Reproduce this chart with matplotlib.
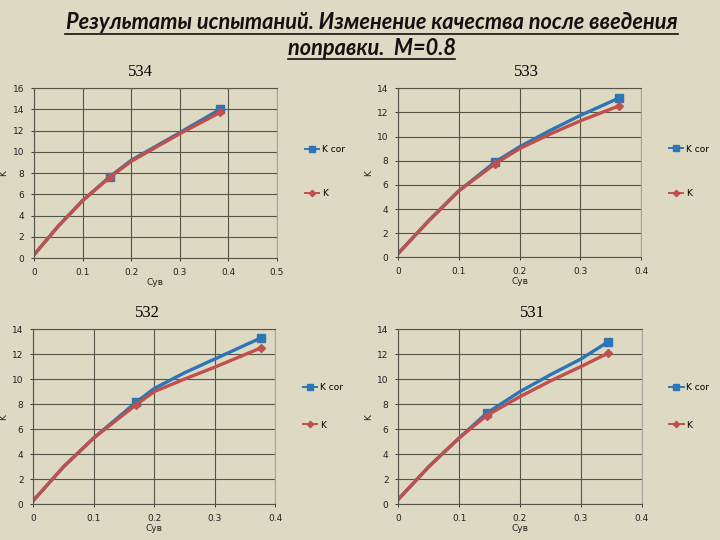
import matplotlib
matplotlib.use("Agg")
import matplotlib.pyplot as plt
from matplotlib.lines import Line2D

bg = "#ddd9c3"
blue = "#2e75b6"
red = "#c0504d"
grid_c = "#55554a"

# curve points; the markers sit on the data points
cy_534 = [0.0, 0.05, 0.10, 0.156, 0.20, 0.25, 0.30, 0.383]
kcor_534 = [0.3, 3.0, 5.4, 7.65, 9.2, 10.5, 11.8, 14.0]
k_534 = [0.3, 3.0, 5.4, 7.6, 9.1, 10.4, 11.7, 13.7]

cy_533 = [0.0, 0.05, 0.10, 0.160, 0.20, 0.25, 0.30, 0.364]
kcor_533 = [0.3, 3.0, 5.5, 7.9, 9.15, 10.5, 11.75, 13.2]
k_533 = [0.3, 3.0, 5.5, 7.75, 9.0, 10.2, 11.3, 12.55]

cy_532 = [0.0, 0.05, 0.10, 0.170, 0.20, 0.25, 0.30, 0.377]
kcor_532 = [0.3, 3.0, 5.3, 8.15, 9.25, 10.5, 11.6, 13.3]
k_532 = [0.3, 3.0, 5.3, 7.95, 9.0, 10.0, 10.95, 12.5]

cy_531 = [0.0, 0.05, 0.10, 0.145, 0.20, 0.25, 0.30, 0.344]
kcor_531 = [0.4, 3.0, 5.3, 7.27, 9.0, 10.35, 11.6, 12.95]
k_531 = [0.4, 3.0, 5.3, 7.08, 8.6, 9.85, 11.0, 12.05]

marked = [3, 7]

# name, data, x max, y max, axes rect, title x, legend y, legend spacing
charts = [
    ("534", cy_534, kcor_534, k_534, 0.5, 16, [0.0472, 0.5222, 0.3375, 0.3148], 0.44, 0.51, 3.9),
    ("533", cy_533, kcor_533, k_533, 0.4, 14, [0.5528, 0.5235, 0.3375, 0.3130], 0.53, 0.51, 3.9),
    ("532", cy_532, kcor_532, k_532, 0.4, 14, [0.0463, 0.0661, 0.3357, 0.3246], 0.47, 0.56, 3.2),
    ("531", cy_531, kcor_531, k_531, 0.4, 14, [0.5532, 0.0661, 0.3380, 0.3246], 0.55, 0.56, 3.2),
]

fig = plt.figure(figsize=(7.2, 5.4), dpi=100)
fig.patch.set_facecolor(bg)

fig.text(0.5165, 0.958, "Результаты испытаний. Изменение качества после введения",
         ha="center", va="center", fontsize=15.7, fontweight="bold", style="italic",
         family=["Lato", "DejaVu Sans"], color="#111111")
fig.text(0.5165, 0.911, "поправки.  M=0.8",
         ha="center", va="center", fontsize=15.7, fontweight="bold", style="italic",
         family=["Lato", "DejaVu Sans"], color="#111111")
# underline the title lines
fig.add_artist(Line2D([0.090, 0.942], [0.937, 0.937], color="#111111", lw=1.2))
fig.add_artist(Line2D([0.400, 0.632], [0.891, 0.891], color="#111111", lw=1.2))

for name, cy, kcor, k, xmax, ymax, rect, tx, ly, lsp in charts:
    ax = fig.add_axes(rect)
    ax.set_facecolor(bg)
    ax.plot(cy, kcor, color=blue, lw=2.4, marker="s", markersize=6,
            markevery=marked, label="K cor")
    ax.plot(cy, k, color=red, lw=2.4, marker="D", markersize=4,
            markevery=marked, label="K")
    ax.set_xlim(0, xmax)
    ax.set_ylim(0, ymax)
    nx = int(round(xmax * 10))
    ax.set_xticks([i / 10 for i in range(nx + 1)])
    ax.set_xticklabels(["0"] + ["%g" % (i / 10) for i in range(1, nx + 1)])
    ax.set_yticks(range(0, ymax + 1, 2))
    ax.grid(True, color=grid_c, lw=0.8)
    ax.set_axisbelow(True)
    for s in ["left", "bottom", "top"]:
        ax.spines[s].set_color(grid_c)
        ax.spines[s].set_linewidth(0.8)
    ax.spines["right"].set_color("#a8a89a")
    ax.tick_params(labelsize=6.5, colors="#222222", length=2, width=0.6, pad=5)
    ax.set_xlabel("Cyв", fontsize=6.5, labelpad=1, color="#222222")
    ax.set_ylabel("K", fontsize=6.5, labelpad=3, color="#222222")
    ax.set_title(name, fontsize=12, family="Liberation Serif", pad=9, x=tx)
    leg = ax.legend(loc="center left", bbox_to_anchor=(1.08, ly), frameon=False,
                    fontsize=6.5, labelspacing=lsp, handlelength=1.6,
                    handletextpad=0.3, markerscale=0.8)
    for h in leg.get_lines():
        h.set_linewidth(1.4)

fig.savefig("out.png", dpi=100, facecolor=bg)
